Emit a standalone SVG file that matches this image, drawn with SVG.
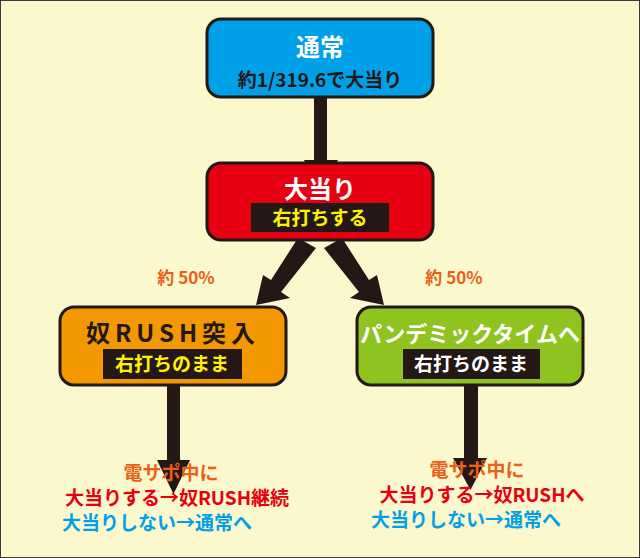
<svg xmlns="http://www.w3.org/2000/svg" width="640" height="558" viewBox="0 0 640 558">
<style>
text{font-family:"Noto Sans CJK JP","Noto Sans",sans-serif;font-weight:bold;text-anchor:middle}
.box{stroke:#231815;stroke-width:3}
.lbl{fill:#231815}
.t{font-size:24px}
.s{font-size:19px}
.b{font-size:19px}
.or{fill:#ea6018}
.rd{fill:#e60012}
.bl{fill:#00a0e9}
</style>
<rect x="0.5" y="0.5" width="639" height="557" fill="#fcf8cd" stroke="#3a3a3a" stroke-width="1"/>
<g id="connectors" fill="#231815">
<polygon points="314,97 327,97 327,160 338,160 320.5,192 304,160 314,160"/>
<polygon points="298,238 316,248 281,292 290,298 256,305 263,275 271,280"/>
<polygon points="342,238 324,248 359,292 350,298 384,305 377,275 369,280"/>
<polygon points="167,385 180,385 180,460 190,460 173.5,494 157,460 167,460"/>
<polygon points="464,385 478,385 478,458 487,458 470.5,490 453,458 464,458"/>
</g>
<g id="n-normal">
<rect class="box" x="207" y="19" width="226" height="78" rx="14" fill="#00a0e9"/>
<text class="t" x="320" y="56" fill="#fff">通常</text>
<text class="s" x="320" y="87" fill="#231815">約1/319.6で大当り</text>
</g>
<g id="n-hit">
<rect class="box" x="207" y="163" width="226" height="77" rx="14" fill="#e60012"/>
<text class="t" x="320" y="198" fill="#fff">大当り</text>
<rect class="lbl" x="251" y="203" width="138" height="29"/>
<text class="s" x="320" y="225" fill="#fff100">右打ちする</text>
</g>
<text class="or" x="186" y="284" style="font-size:17px">約 50%</text>
<text class="or" x="454" y="284" style="font-size:17px">約 50%</text>
<g id="n-rush">
<rect class="box" x="60" y="307" width="226" height="78" rx="14" fill="#f39800"/>
<text class="t" x="173" y="342" fill="#231815" letter-spacing="5">奴RUSH突入</text>
<rect class="lbl" x="103" y="349" width="139" height="30"/>
<text class="s" x="172" y="371" fill="#fff100">右打ちのまま</text>
</g>
<g id="n-pandemic">
<rect class="box" x="357" y="307" width="226" height="78" rx="14" fill="#8fc31f"/>
<text x="470" y="342" fill="#fff" style="font-size:22px">パンデミックタイムへ</text>
<rect class="lbl" x="403" y="349" width="137" height="30"/>
<text class="s" x="471" y="371" fill="#fff">右打ちのまま</text>
</g>
<g id="n-left-result">
<text class="b or" x="171" y="480">電サポ中に</text>
<text class="b rd" x="177" y="505">大当りする→奴RUSH継続</text>
<text class="b bl" x="157" y="530">大当りしない→通常へ</text>
</g>
<g id="n-right-result">
<text class="b or" x="477" y="477">電サポ中に</text>
<text class="b rd" x="482" y="502">大当りする→奴RUSHへ</text>
<text class="b bl" x="466" y="527">大当りしない→通常へ</text>
</g>
</svg>
